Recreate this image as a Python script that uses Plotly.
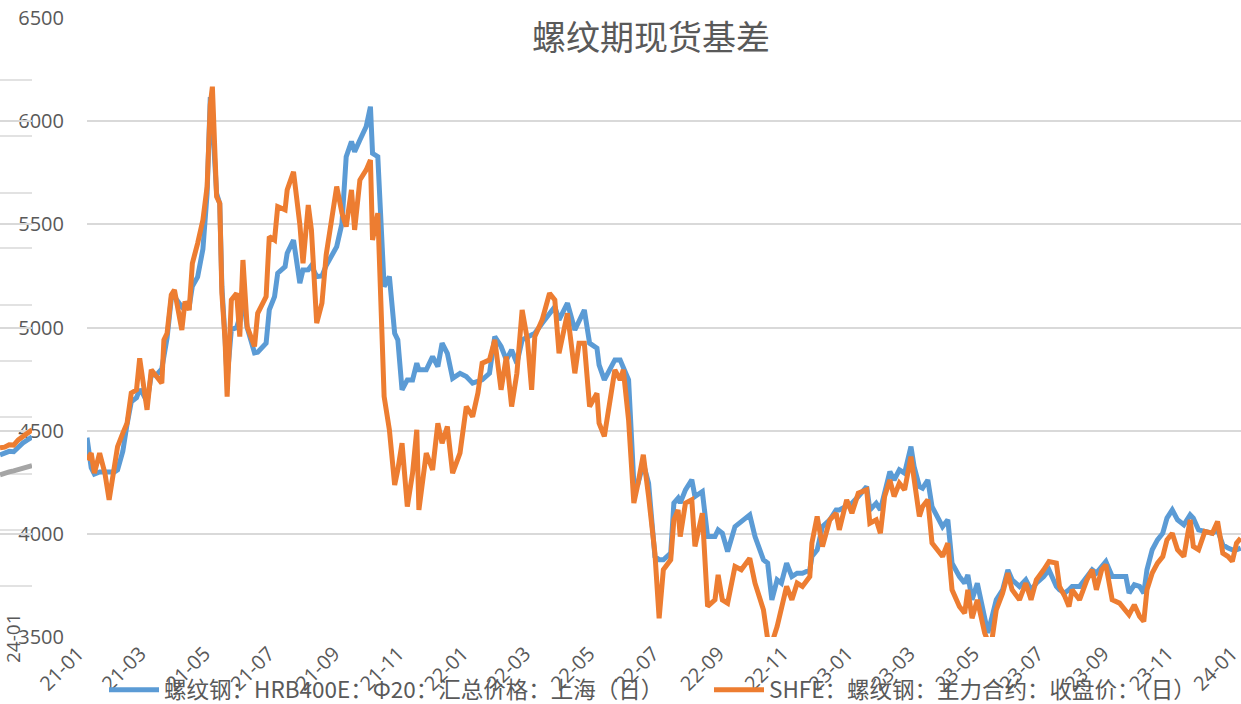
import plotly.graph_objects as go

# ---------------- data ----------------
dates_2021 = [
    "2021-01-01", "2021-01-05", "2021-01-08", "2021-01-13", "2021-01-18", "2021-01-22", "2021-01-27",
    "2021-01-30", "2021-02-04", "2021-02-08", "2021-02-12", "2021-02-17", "2021-02-20", "2021-02-23",
    "2021-02-27", "2021-03-03", "2021-03-08", "2021-03-13", "2021-03-15", "2021-03-18", "2021-03-22",
    "2021-03-25", "2021-04-01", "2021-04-04", "2021-04-08", "2021-04-11", "2021-04-16", "2021-04-21",
    "2021-04-25", "2021-04-28", "2021-04-30", "2021-05-04", "2021-05-07", "2021-05-09", "2021-05-12",
    "2021-05-14", "2021-05-18", "2021-05-23", "2021-05-26", "2021-05-29", "2021-06-02", "2021-06-09",
    "2021-06-12", "2021-06-20", "2021-06-23", "2021-06-28", "2021-07-01", "2021-07-08", "2021-07-10",
    "2021-07-16", "2021-07-22", "2021-07-25", "2021-07-30", "2021-08-02", "2021-08-07", "2021-08-12",
    "2021-08-16", "2021-08-26", "2021-08-31", "2021-09-04", "2021-09-09", "2021-09-12", "2021-09-17",
    "2021-09-23", "2021-09-27", "2021-09-29", "2021-10-04", "2021-10-08", "2021-10-10", "2021-10-15",
    "2021-10-20", "2021-10-23", "2021-10-27", "2021-11-01", "2021-11-06", "2021-11-10", "2021-11-12",
    "2021-11-19", "2021-11-25", "2021-11-30", "2021-12-04", "2021-12-09", "2021-12-14", "2021-12-21",
    "2021-12-27",
]
spot_2021 = [
    4466, 4320, 4290, 4300, 4300, 4300, 4300, 4310, 4400, 4530, 4640, 4660, 4700, 4680, 4640, 4770,
    4770, 4800, 4870, 4950, 5140, 5150, 5100, 5110, 5100, 5200, 5245, 5380, 5650, 6117, 6000, 5650,
    5600, 5200, 4950, 4750, 4990, 5000, 5050, 5150, 5000, 4877, 4880, 4924, 5085, 5150, 5263, 5295,
    5360, 5424, 5215, 5279, 5280, 5300, 5247, 5250, 5300, 5392, 5505, 5828, 5901, 5852, 5909, 5974,
    6070, 5844, 5828, 5424, 5198, 5247, 4972, 4940, 4698, 4746, 4746, 4827, 4795, 4795, 4859, 4811,
    4924, 4875, 4754, 4778, 4762,
]
futures_2021 = [
    4358, 4391, 4294, 4391, 4294, 4165, 4326, 4423, 4488, 4536, 4682, 4698, 4851, 4746, 4601, 4795,
    4762, 4730, 4940, 4972, 5158, 5182, 4988, 5126, 5085, 5311, 5408, 5521, 5683, 6080, 6167, 5634,
    5602, 5166, 4940, 4665, 5134, 5166, 4956, 5327, 5004, 4908, 5069, 5150, 5441, 5424, 5586, 5570,
    5667, 5755, 5500, 5311, 5594, 5473, 5021, 5118, 5352, 5683, 5554, 5489, 5667, 5473, 5715, 5764,
    5812, 5424, 5554, 5037, 4665, 4504, 4237, 4310, 4439, 4132, 4294, 4504, 4116, 4391, 4310, 4536,
    4439, 4520, 4294, 4391, 4617,
]

dates_2022 = [
    "2022-01-02", "2022-01-07", "2022-01-11", "2022-01-18", "2022-01-23", "2022-01-29", "2022-02-03",
    "2022-02-08", "2022-02-13", "2022-02-18", "2022-02-23", "2022-02-27", "2022-03-02", "2022-03-09",
    "2022-03-16", "2022-03-21", "2022-03-25", "2022-04-02", "2022-04-09", "2022-04-13", "2022-04-18",
    "2022-04-23", "2022-04-30", "2022-05-02", "2022-05-07", "2022-05-12", "2022-05-17", "2022-05-22",
    "2022-05-25", "2022-05-30", "2022-06-04", "2022-06-08", "2022-06-13", "2022-06-18", "2022-06-24",
    "2022-06-28", "2022-07-02", "2022-07-09", "2022-07-12", "2022-07-16", "2022-07-18", "2022-07-23",
    "2022-07-29", "2022-08-01", "2022-08-08", "2022-08-13", "2022-08-20", "2022-08-23", "2022-08-27",
    "2022-09-01", "2022-09-08", "2022-09-14", "2022-09-22", "2022-09-27", "2022-10-05", "2022-10-09",
    "2022-10-13", "2022-10-18", "2022-10-22", "2022-10-27", "2022-11-01", "2022-11-06", "2022-11-11",
    "2022-11-18", "2022-11-20", "2022-11-25", "2022-11-30", "2022-12-07", "2022-12-13", "2022-12-16",
    "2022-12-23", "2022-12-28",
]
spot_2022 = [
    4730, 4738, 4746, 4778, 4956, 4908, 4843, 4891, 4827, 4940, 4956, 4964, 4972, 5021, 5069, 5101,
    5037, 5118, 4988, 5037, 5085, 4924, 4900, 4819, 4746, 4795, 4843, 4843, 4811, 4746, 4245, 4245,
    4342, 4245, 3890, 3874, 3874, 3906, 4149, 4173, 4149, 4213, 4262, 4181, 4205, 3987, 3987, 4019,
    4003, 3914, 4035, 4060, 4092, 3987, 3874, 3858, 3680, 3777, 3761, 3858, 3793, 3809, 3809, 3825,
    3890, 3922, 4035, 4068, 4116, 4116, 4132, 4148,
]
futures_2022 = [
    4568, 4682, 4827, 4843, 4940, 4698, 4859, 4617, 4778, 5085, 4940, 4698, 4956, 5037, 5166, 5134,
    4875, 5069, 4778, 4924, 4924, 4617, 4681, 4536, 4472, 4633, 4795, 4746, 4795, 4552, 4149, 4245,
    4383, 4181, 3906, 3591, 3826, 3874, 4068, 4116, 3987, 4149, 4165, 3939, 4100, 3648, 3680, 3801,
    3680, 3664, 3842, 3826, 3882, 3761, 3632, 3490, 3470, 3551, 3648, 3745, 3680, 3761, 3745, 3793,
    3955, 4084, 3938, 4068, 4100, 4019, 4165, 4100,
]

dates_2023 = [
    "2023-01-03", "2023-01-11", "2023-01-14", "2023-01-20", "2023-01-24", "2023-01-28", "2023-02-02",
    "2023-02-06", "2023-02-11", "2023-02-16", "2023-02-22", "2023-02-25", "2023-03-02", "2023-03-05",
    "2023-03-10", "2023-03-14", "2023-03-19", "2023-03-24", "2023-03-29", "2023-04-02", "2023-04-09",
    "2023-04-14", "2023-04-17", "2023-04-21", "2023-04-26", "2023-05-03", "2023-05-06", "2023-05-10",
    "2023-05-14", "2023-05-20", "2023-05-25", "2023-05-29", "2023-06-05", "2023-06-11", "2023-06-16",
    "2023-06-21", "2023-06-28", "2023-07-03", "2023-07-10", "2023-07-13", "2023-07-18", "2023-07-22",
    "2023-07-25", "2023-08-01", "2023-08-08", "2023-08-13", "2023-08-17", "2023-08-22", "2023-08-26",
    "2023-09-01", "2023-09-08", "2023-09-14", "2023-09-17", "2023-09-22", "2023-09-27", "2023-10-01",
    "2023-10-04", "2023-10-09", "2023-10-14", "2023-10-19", "2023-10-23", "2023-10-28", "2023-11-02",
    "2023-11-08", "2023-11-14", "2023-11-17", "2023-11-22", "2023-11-28", "2023-12-05", "2023-12-10",
    "2023-12-15", "2023-12-20", "2023-12-24", "2023-12-28", "2024-01-01",
]
spot_2023 = [
    4181, 4229, 4116, 4148, 4116, 4197, 4302, 4261, 4310, 4294, 4423, 4326, 4229, 4221, 4261, 4132,
    4084, 4035, 4068, 3858, 3793, 3761, 3801, 3680, 3761, 3583, 3520, 3599, 3680, 3728, 3825, 3777,
    3745, 3777, 3728, 3761, 3793, 3826, 3745, 3729, 3713, 3729, 3745, 3745, 3793, 3826, 3810, 3842,
    3866, 3793, 3793, 3793, 3713, 3753, 3745, 3713, 3826, 3923, 3971, 4003, 4076, 4116, 4068, 4044,
    4092, 4076, 4019, 4012, 4003, 4019, 3947, 3931, 3923, 3923, 3931,
]
futures_2023 = [
    4197, 4213, 4051, 4068, 4003, 4181, 4261, 4181, 4245, 4213, 4374, 4261, 4084, 4132, 4165, 3955,
    3922, 3890, 3955, 3729, 3648, 3615, 3729, 3591, 3680, 3519, 3480, 3490, 3632, 3712, 3809, 3729,
    3680, 3761, 3680, 3777, 3826, 3866, 3858, 3745, 3697, 3648, 3729, 3680, 3777, 3826, 3729, 3826,
    3850, 3680, 3664, 3632, 3608, 3656, 3600, 3575, 3729, 3810, 3858, 3890, 3971, 4003, 3923, 3890,
    4068, 3939, 3923, 4012, 4003, 4060, 3906, 3890, 3866, 3955, 3979,
]

# fragment of a neighbouring chart visible at the left edge of the screenshot
ghost_index = [0, 1, 2, 3, 4, 5, 6, 7]
ghost_spot = [4383, 4390, 4400, 4398, 4420, 4440, 4455, 4470]
ghost_futures = [4417, 4420, 4432, 4430, 4455, 4470, 4488, 4504]
ghost_other = [4286, 4295, 4300, 4305, 4312, 4318, 4322, 4330]
ghost_tick_text = "24-01"

series_names = ["螺纹钢：HRB400E：Φ20：汇总价格：上海（日）", "SHFE：螺纹钢：主力合约：收盘价：（日）"]
title_text = "螺纹期现货基差"
y_ticks = [3500, 4000, 4500, 5000, 5500, 6000, 6500]

dates = dates_2021 + dates_2022 + dates_2023
spot = spot_2021 + spot_2022 + spot_2023
futures = futures_2021 + futures_2022 + futures_2023

# ---------------- figure ----------------
W, H = 1241, 704
PLOT_L, PLOT_T, PLOT_B = 87, 18, 637
BLUE, ORANGE, GREY = "#5B9BD5", "#ED7D31", "#A5A5A5"
TXT = "#595959"
GRID = "#D9D9D9"
LW = 5

fig = go.Figure()
fig.add_trace(go.Scatter(x=dates, y=spot, name=series_names[0], mode="lines",
                         line=dict(color=BLUE, width=LW)))
fig.add_trace(go.Scatter(x=dates, y=futures, name=series_names[1], mode="lines",
                         line=dict(color=ORANGE, width=LW)))

for arr, col in [(ghost_other, GREY), (ghost_spot, BLUE), (ghost_futures, ORANGE)]:
    fig.add_trace(go.Scatter(x=ghost_index, y=arr, mode="lines", xaxis="x2", yaxis="y",
                             line=dict(color=col, width=LW), showlegend=False, hoverinfo="skip"))

shapes = []
for ypx in [80, 136, 193, 248, 305, 361, 417, 474, 530, 586]:
    yp = (PLOT_B - ypx) / (PLOT_B - PLOT_T)
    shapes.append(dict(type="line", xref="paper", yref="paper", x0=0, x1=32 / W, y0=yp, y1=yp,
                       line=dict(color=GRID, width=1.5), layer="below"))

fig.update_layout(
    width=W, height=H,
    margin=dict(l=0, r=0, t=PLOT_T, b=H - PLOT_B, pad=0, autoexpand=False),
    paper_bgcolor="white", plot_bgcolor="white",
    title=dict(text=title_text, xref="container", yref="container", x=651 / W, y=1 - 38 / H,
               xanchor="center", yanchor="middle",
               font=dict(family="Noto Sans CJK SC", size=34, color=TXT)),
    xaxis=dict(domain=[PLOT_L / W, 1], type="date", range=["2021-01-01", "2024-01-01 06:00"],
               tick0="2021-01-01", dtick="M2", tickformat="%y-%m", tickangle=-45,
               ticklabeloverflow="allow", ticklabelshift=-9,
               showgrid=False, zeroline=False, showline=False, ticks="", automargin=False,
               tickfont=dict(family="Open Sans", size=20, color=TXT)),
    xaxis2=dict(domain=[0, 32 / W], range=[0, 7], visible=False, anchor="y", automargin=False),
    yaxis=dict(range=[3500, 6500], tickvals=y_ticks, showgrid=True, gridcolor=GRID, gridwidth=1.5,
               zeroline=False, showline=False, ticks="", ticklabelstandoff=22, automargin=False,
               tickfont=dict(family="Open Sans", size=20, color=TXT)),
    legend=dict(orientation="h", xref="container", yref="container", x=104 / W, y=14 / H,
                xanchor="left", yanchor="middle", itemwidth=50, entrywidth=540,
                entrywidthmode="pixels", bgcolor="rgba(0,0,0,0)",
                font=dict(family="Noto Sans CJK SC", size=22.5, color=TXT)),
    shapes=shapes,
    annotations=[dict(text=ghost_tick_text, xref="paper", yref="paper", x=13 / W,
                      y=(PLOT_B - 638) / (PLOT_B - PLOT_T), xanchor="center", yanchor="middle",
                      textangle=-90, showarrow=False,
                      font=dict(family="Open Sans", size=19, color=TXT))],
    showlegend=True,
)

fig.write_html("out.html", config={"displayModeBar": False},
               post_script="document.body.style.margin='0';")
